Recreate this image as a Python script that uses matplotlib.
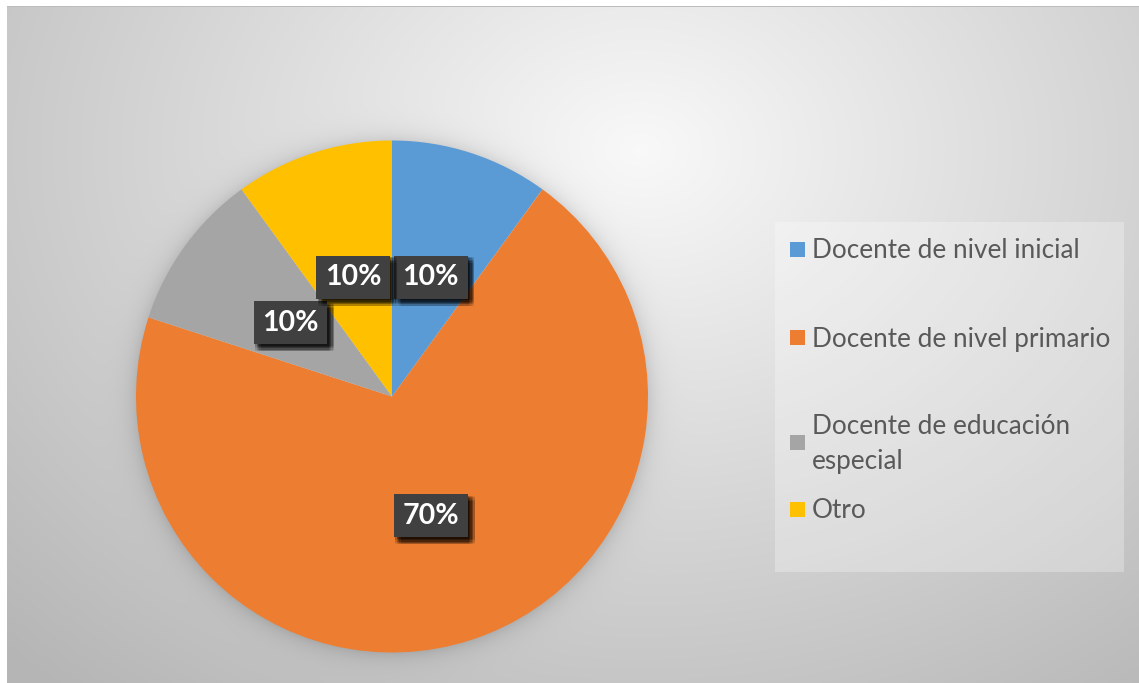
import numpy as np
import matplotlib.pyplot as plt
import matplotlib.patheffects as pe
from matplotlib.patches import Rectangle

categorias = ['Docente de nivel inicial', 'Docente de nivel primario',
              'Docente de educación\nespecial', 'Otro']
porcentajes = [10, 70, 10, 10]
colores = ['#5B9BD5', '#ED7D31', '#A5A5A5', '#FFC000']

W, H = 1139, 683
fig = plt.figure(figsize=(W / 100, H / 100), dpi=100, facecolor='white')

# fondo con degradado radial gris y sombra suave alrededor del pastel
cx, cy, R = 392, 396.5, 256
yy, xx = np.mgrid[0:H, 0:W]
d = np.sqrt(((xx - 640) / 720.0) ** 2 + ((yy - 150) / 560.0) ** 2)
val = 0.975 - 0.21 * np.clip(d, 0, 1.25)
dp = np.sqrt((xx - cx) ** 2 + (yy - cy) ** 2) - R
val = val - 0.10 * np.exp(-np.clip(dp, 0, None) / 10.0) * (dp > -2)
img = np.dstack([val, val, val])
img[:, :7] = 1.0
img[:6, :] = 1.0
img[6, 7:] = 0.74
bg = fig.add_axes([0, 0, 1, 1])
bg.imshow(img, extent=(0, W, H, 0), aspect='auto', interpolation='nearest')
bg.set_xlim(0, W)
bg.set_ylim(H, 0)
bg.axis('off')

ax = fig.add_axes([(cx - R) / W, (H - cy - R) / H, 2 * R / W, 2 * R / H])
ax.patch.set_alpha(0)
wedges, _, autotexts = ax.pie(
    porcentajes, colors=colores, startangle=90, counterclock=False,
    autopct='%d%%', pctdistance=0.49,
    wedgeprops=dict(linewidth=0),
    textprops=dict(color='white', fontsize=20.5, fontweight='bold',
                   family='Lato'))
ax.set_xlim(-1, 1)
ax.set_ylim(-1, 1)

# sombra difusa de las etiquetas
sombra = [pe.SimplePatchShadow(offset=(dx, -dy), shadow_rgbFace='black', alpha=0.07)
          for dx in (1, 2, 3, 4, 5) for dy in (1, 2, 3, 4, 5)]
for t in autotexts:
    t.set_bbox(dict(boxstyle='square,pad=0.3', facecolor='#404040',
                    edgecolor='none'))
    t.get_bbox_patch().set_path_effects(sombra + [pe.Normal()])

# leyenda
bg.add_patch(Rectangle((775, 222), 349, 350, facecolor='white', alpha=0.28,
                       edgecolor='none'))
filas = [250, 338, 443, 510]
for lab, col, yc in zip(categorias, colores, filas):
    bg.add_patch(Rectangle((790, yc - 8), 15, 15, facecolor=col, edgecolor='none'))
    bg.text(812, yc + 1, lab, fontsize=18.8, color='#595959', family='Lato',
            va='center', ha='left', linespacing=1.5)

fig.savefig('out.png', dpi=100)
